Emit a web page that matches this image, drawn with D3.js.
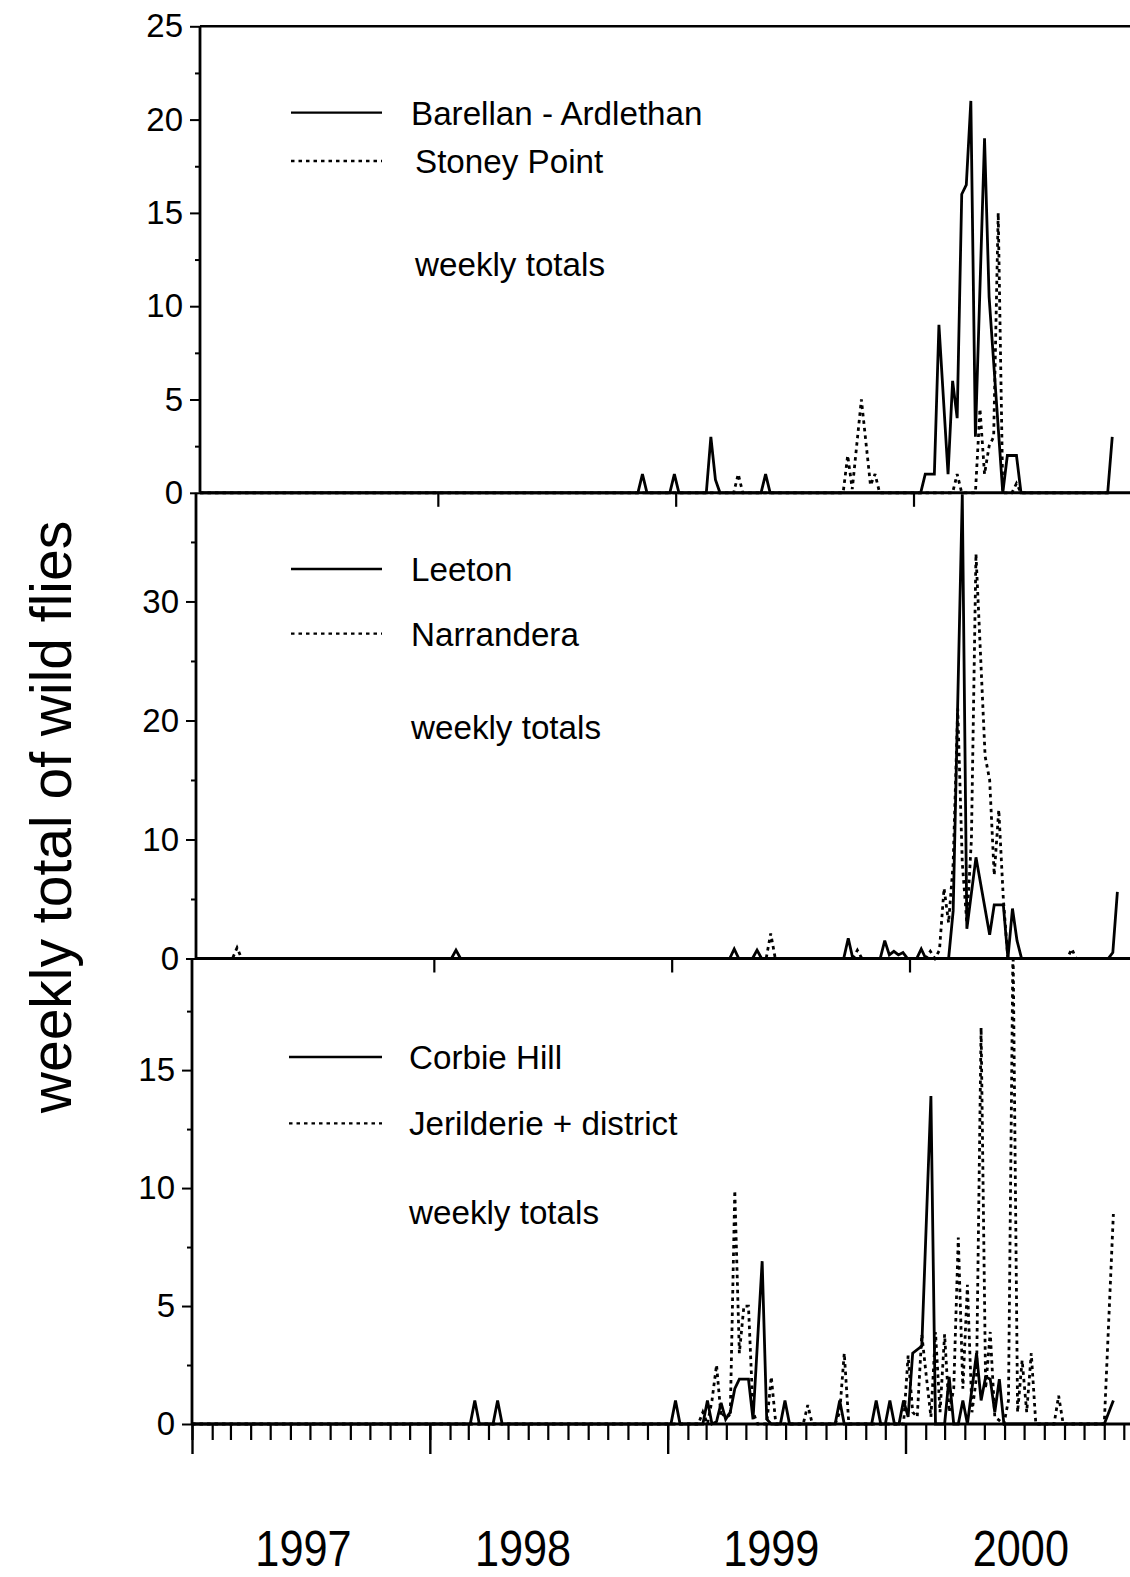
<!DOCTYPE html>
<html>
<head>
<meta charset="utf-8">
<script src="https://cdn.jsdelivr.net/npm/d3@7"></script>
<style>
  body { margin: 0; background: #fff; }
  svg { display: block; font-family: "Liberation Sans", Arial, Helvetica, sans-serif; }
</style>
</head>
<body>
<svg></svg>
<script>
const W = 1130,
  H = 1577,
  START = new Date(1997, 0, 1),
  END = new Date(2001, 0, 1),
  YEARS = [1997, 1998, 1999, 2000],
  YEAR_PX = 238;

// weekly totals, [week since 1 Jan 1997, flies]; weeks not listed lie on the line between
const barellan = [[0,0],[96,0],[97,1],[98,0],[103,0],[104,1],[105,0],[111,0],[112,3],[113,0.7],[114,0],
  [123,0],[124,1],[125,0],[158,0],[159,1],[161,1],[162,9],[164,1],[165,6],[166,4],[167,16],[168,16.5],
  [169,21],[170,3],[172,19],[173,10.5],[176,0],[177,2],[179,2],[180,0],[199,0],[200,3]];
const stoneyPoint = [[0,0],[117,0],[118,1],[119,0],[141,0],[142,2],[143,0.2],[145,5],[147,0.4],[148,1],
  [149,0],[165,0],[166,1],[167,0],[170,0],[171,4.5],[172,1],[173,2.5],[174,3],[175,15],[176,0],[178,0],
  [179,0.5],[180,0],[200,0]];
const leeton = [[0,0],[56,0],[57,0.7],[58,0],[117,0],[118,0.8],[119,0],[122,0],[123,0.7],[124,0],
  [142,0],[143,1.7],[144,0],[150,0],[151,1.5],[152,0.3],[153,0.6],[154,0.3],[155,0.5],[156,0],
  [158,0],[159,0.8],[160,0],[165,0],[166,4],[168,39],[169,2.5],[171,8.5],[174,2],[175,4.5],[177,4.5],
  [178,0],[179,4.2],[180,1.5],[181,0],[200,0],[201,0.5],[202,5.6]];
const narrandera = [[0,0],[8,0],[9,0.9],[10,0],[125,0],[126,2.1],[127,0],[144,0],[145,0.7],[146,0],
  [160,0],[161,0.6],[162,0],[163,0.7],[164,5.9],[165,3],[166,8],[167,21],[168,8],[169,3],[170,10],
  [171,34],[173,17],[174,15],[175,7],[176,12.5],[177,5],[178,0],[191,0],[192,0.8],[193,0],[202,0]];
const corbieHill = [[0,0],[61,0],[62,1],[63,0],[66,0],[67,1],[68,0],[105,0],[106,1],[107,0],[112,0],
  [113,1],[114,0],[115,0.1],[116,0.9],[117,0.2],[118,0.5],[119,1.5],[120,1.9],[122,1.9],[123,0.2],
  [125,6.9],[126,0.2],[127,0],[129,0],[130,1],[131,0],[141,0],[142,1],[143,0],[149,0],[150,1],[151,0],
  [152,0],[153,1],[154,0],[155,0],[156,1],[157,0.3],[158,3],[160,3.3],[162,13.9],[163,0],[165,0],
  [166,2],[167,0],[168,0],[169,1],[170,0],[172,3],[173,1],[174,2],[175,1.9],[176,0.5],[177,1.9],
  [178,0],[200,0],[202,1]];
const jerilderie = [[0,0],[111,0],[112,0.5],[113,0],[114,1],[115,2.5],[116,0.3],[117,0.5],[118,0.3],
  [119,9.9],[120,3],[121,5],[122,5],[123,0.5],[124,0],[126,0],[127,2],[128,0],[134,0],[135,0.8],
  [136,0],[141,0],[142,0.5],[143,3],[144,0],[156,0],[157,2.9],[158,0.5],[159,0.3],[160,3.8],[161,2],
  [162,0.3],[163,3.9],[164,0.5],[165,3.8],[166,0.5],[167,1.5],[168,7.9],[169,1.5],[170,5.9],[171,0.5],
  [172,2],[173,16.8],[174,1.5],[175,3.9],[176,0.3],[178,0],[179,1],[180,20.5],[181,0.5],[182,2.7],
  [183,0.5],[184,3],[185,0],[189,0],[190,1.2],[191,0],[200,0],[202,8.9]];

const names = [
  ["Barellan - Ardlethan", "Stoney Point"],
  ["Leeton", "Narrandera"],
  ["Corbie Hill", "Jerilderie + district"]
];
const yMax = [25, 39.13, 19.73];
const yMajor = [[0, 5, 10, 15, 20, 25], [0, 10, 20, 30], [0, 5, 10, 15]];
const yMinor = [[2.5, 7.5, 12.5, 17.5, 22.5], [5, 15, 25, 35], [2.5, 7.5, 12.5, 17.5]];
const NOTE = "weekly totals",
  YTITLE = "weekly total of wild flies";

// layout of the three stacked panels (the scan is slightly skewed, hence x0)
const layout = [
  { top: 26.3, bottom: 492.8, x0: 200, lx: [291, 382], lg: [112.6, 161, 264.5], tx: [411, 415, 415] },
  { top: 492.8, bottom: 958.5, x0: 196, lx: [291, 382], lg: [569, 633.6, 727], tx: [411, 411, 411] },
  { top: 958.5, bottom: 1424, x0: 192, lx: [289, 382], lg: [1057, 1123.4, 1212], tx: [409, 409, 409] }
];
const yearLabelFrac = [0.468, 0.393, 0.435, 0.485];

const svg = d3.select("svg").attr("width", W).attr("height", H);
const series = [[barellan, stoneyPoint], [leeton, narrandera], [corbieHill, jerilderie]];
const weekDate = w => d3.timeDay.offset(START, 7 * w);
const DASH = "3.5,4";

series.forEach((pair, i) => {
  const L = layout[i];
  const x = d3.scaleTime().domain([START, END]).range([L.x0, L.x0 + 4 * YEAR_PX]);
  const y = d3.scaleLinear().domain([0, yMax[i]]).range([L.bottom, L.top]);
  const g = svg.append("g");

  g.append("clipPath")
    .attr("id", "clip" + i)
    .append("rect")
    .attr("x", L.x0)
    .attr("y", L.top)
    .attr("width", W - L.x0)
    .attr("height", L.bottom - L.top + 4);

  const line = d3.line()
    .x(d => x(weekDate(d[0])))
    .y(d => y(d[1]));

  pair.forEach((data, k) => {
    g.append("path")
      .datum(data)
      .attr("clip-path", "url(#clip" + i + ")")
      .attr("fill", "none")
      .attr("stroke", "#000")
      .attr("stroke-width", 2.8)
      .attr("stroke-linejoin", "miter")
      .attr("stroke-miterlimit", 3)
      .attr("stroke-dasharray", k ? DASH : null)
      .attr("d", line);
  });

  // y axis: major ticks with labels, minor ticks without
  const yAxis = g.append("g")
    .attr("transform", "translate(" + L.x0 + ",0)")
    .call(d3.axisLeft(y).tickValues(yMajor[i]).tickSize(10).tickPadding(7).tickSizeOuter(0));
  yAxis.select(".domain").remove();
  yAxis.selectAll("text").attr("font-size", 33).attr("font-family", null).attr("fill", "#000");
  yAxis.selectAll("line").attr("stroke-width", 2);

  const yMin = g.append("g")
    .attr("transform", "translate(" + L.x0 + ",0)")
    .call(d3.axisLeft(y).tickValues(yMinor[i]).tickSize(5).tickFormat(""));
  yMin.select(".domain").remove();
  yMin.selectAll("line").attr("stroke-width", 2);

  // frame lines
  g.append("line")
    .attr("x1", L.x0).attr("x2", L.x0)
    .attr("y1", L.top).attr("y2", L.bottom)
    .attr("stroke", "#000").attr("stroke-width", 2.8);
  g.append("line")
    .attr("x1", L.x0).attr("x2", W)
    .attr("y1", L.bottom).attr("y2", L.bottom)
    .attr("stroke", "#000").attr("stroke-width", 3);
  if (i === 0) {
    g.append("line")
      .attr("x1", L.x0).attr("x2", W)
      .attr("y1", L.top).attr("y2", L.top)
      .attr("stroke", "#000").attr("stroke-width", 2.5);
  }

  // x axis ticks
  const yearTicks = YEARS.map(yr => new Date(yr, 0, 1));
  if (i < 2) {
    const xa = g.append("g")
      .attr("transform", "translate(0," + L.bottom + ")")
      .call(d3.axisBottom(x).tickValues(yearTicks.slice(1)).tickSize(14).tickFormat(""));
    xa.select(".domain").remove();
    xa.selectAll("line").attr("stroke-width", 2.2);
  } else {
    const xm = g.append("g")
      .attr("transform", "translate(0," + L.bottom + ")")
      .call(d3.axisBottom(x).ticks(d3.timeMonth.every(1)).tickSize(16).tickFormat(""));
    xm.select(".domain").remove();
    xm.selectAll("line").attr("stroke-width", 2.2);
    const xy = g.append("g")
      .attr("transform", "translate(0," + L.bottom + ")")
      .call(d3.axisBottom(x).tickValues(yearTicks).tickSize(30).tickFormat(""));
    xy.select(".domain").remove();
    xy.selectAll("line").attr("stroke-width", 2.4);

    YEARS.forEach((yr, j) => {
      const xp = x(d3.timeDay.offset(new Date(yr, 0, 1), Math.round(yearLabelFrac[j] * 365)));
      svg.append("text")
        .attr("transform", "translate(" + xp + ",1566) scale(0.94,1.08)")
        .attr("text-anchor", "middle")
        .attr("font-size", 46)
        .text(yr);
    });
  }

  // legend
  [0, 1].forEach(k => {
    g.append("line")
      .attr("x1", L.lx[0])
      .attr("x2", L.lx[1])
      .attr("y1", L.lg[k]).attr("y2", L.lg[k])
      .attr("stroke", "#000")
      .attr("stroke-width", 2.4)
      .attr("stroke-dasharray", k ? DASH : null);
    g.append("text")
      .attr("x", L.tx[k])
      .attr("y", L.lg[k])
      .attr("dy", "0.36em")
      .attr("font-size", 33.2)
      .text(names[i][k]);
  });
  g.append("text")
    .attr("x", L.tx[2])
    .attr("y", L.lg[2])
    .attr("dy", "0.36em")
    .attr("font-size", 33.2)
    .text(NOTE);
});

svg.append("text")
  .attr("transform", "translate(71,817) rotate(-90)")
  .attr("text-anchor", "middle")
  .attr("font-size", 57)
  .text(YTITLE);
</script>
</body>
</html>
